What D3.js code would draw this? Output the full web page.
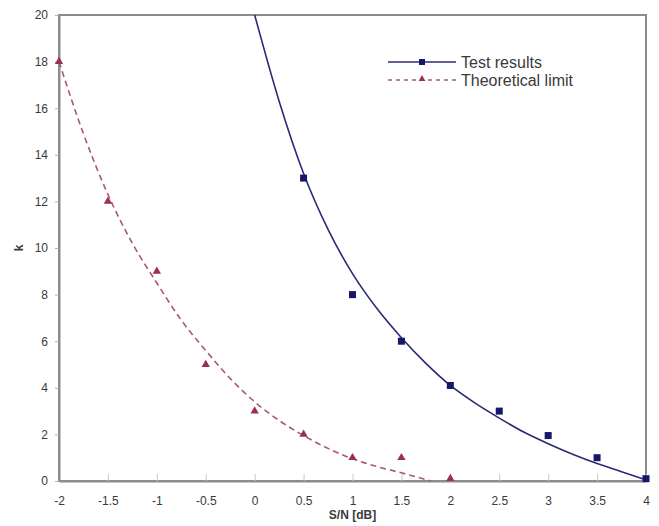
<!DOCTYPE html>
<html>
<head>
<meta charset="utf-8">
<script src="https://cdn.jsdelivr.net/npm/d3@7"></script>
<style>
  body { margin: 0; background: #fff; }
  svg { display: block; font-family: "Liberation Sans", Arial, sans-serif; }
</style>
</head>
<body>
<svg id="chart"></svg>
<script>
// measured points
const testX = [0.5, 1, 1.5, 2, 2.5, 3, 3.5, 4];
const testK = [13, 8, 6, 4.1, 3, 1.95, 1, 0.1];
const theoX = [-2, -1.5, -1, -0.5, 0, 0.5, 1, 1.5, 2];
const theoK = [18, 12, 9, 5, 3, 2, 1, 1, 0.1];

// trend curves
const testFitX = [0, 0.25, 0.5, 0.75, 1, 1.25, 1.5, 1.75, 2, 2.25, 2.5, 2.75, 3, 3.25, 3.5, 3.75, 4];
const testFitK = [20, 16.3, 13.2, 10.8, 8.9, 7.4, 6.15, 5.05, 4.1, 3.35, 2.7, 2.1, 1.6, 1.15, 0.75, 0.4, 0.05];
const theoFitX = [-2, -1.75, -1.5, -1.25, -1, -0.75, -0.5, -0.25, 0, 0.25, 0.5, 0.75, 1, 1.25, 1.5, 1.65, 1.8];
const theoFitK = [18, 14.9, 12.3, 10.2, 8.5, 6.9, 5.6, 4.4, 3.4, 2.6, 1.95, 1.4, 0.95, 0.62, 0.35, 0.18, 0];

const xTicks = [-2, -1.5, -1, -0.5, 0, 0.5, 1, 1.5, 2, 2.5, 3, 3.5, 4];
const yTicks = [0, 2, 4, 6, 8, 10, 12, 14, 16, 18, 20];

const width = 659, height = 526;
const margin = { top: 15, right: 13, bottom: 45, left: 59 };
const innerW = width - margin.left - margin.right;
const innerH = height - margin.top - margin.bottom;

const navy = "#16166a";
const navyLine = "#2a2a78";
const wine = "#9a2f55";
const wineLine = "#a9586f";
const axisGray = "#8c8c8c";
const textCol = "#3a3a3a";

const svg = d3.select("#chart").attr("width", width).attr("height", height);
const g = svg.append("g").attr("transform", `translate(${margin.left},${margin.top})`);

const x = d3.scaleLinear().domain([-2, 4]).range([0, innerW]);
const y = d3.scaleLinear().domain([0, 20]).range([innerH, 0]);

// plot frame
g.append("rect")
  .attr("width", innerW).attr("height", innerH)
  .attr("fill", "none").attr("stroke", axisGray).attr("stroke-width", 2);

// x axis: ticks pointing into the plot
const xAxis = g.append("g")
  .attr("transform", `translate(0,${innerH})`)
  .call(d3.axisBottom(x).tickValues(xTicks).tickSizeInner(-7).tickSizeOuter(0).tickPadding(15)
    .tickFormat(d => String(d)));
xAxis.select(".domain").attr("stroke", axisGray).attr("stroke-width", 2);
xAxis.selectAll(".tick line").attr("stroke", "#c8c8c8");
xAxis.selectAll(".tick text").attr("fill", textCol).attr("font-size", 12);

const yAxis = g.append("g")
  .call(d3.axisLeft(y).tickValues(yTicks).tickSizeInner(4).tickSizeOuter(0).tickPadding(7));
yAxis.select(".domain").attr("stroke", axisGray).attr("stroke-width", 2);
yAxis.selectAll(".tick line").attr("stroke", "#b0b0b0");
yAxis.selectAll(".tick text").attr("fill", textCol).attr("font-size", 12);

// axis titles
svg.append("text")
  .attr("x", margin.left + x(1)).attr("y", 519)
  .attr("text-anchor", "middle").attr("font-weight", "bold").attr("font-size", 12)
  .attr("fill", textCol).text("S/N [dB]");
svg.append("text")
  .attr("transform", `translate(23,${margin.top + y(10)}) rotate(-90)`)
  .attr("text-anchor", "middle").attr("font-weight", "bold").attr("font-size", 12)
  .attr("fill", textCol).text("k");

// trend curves
const line = d3.line().x(d => x(d[0])).y(d => y(d[1])).curve(d3.curveMonotoneX);

g.append("path")
  .datum(d3.zip(theoFitX, theoFitK))
  .attr("fill", "none").attr("stroke", wineLine).attr("stroke-width", 1.6)
  .attr("stroke-dasharray", "6,4").attr("d", line);

g.append("path")
  .datum(d3.zip(testFitX, testFitK))
  .attr("fill", "none").attr("stroke", navyLine).attr("stroke-width", 1.6)
  .attr("d", line);

// markers
const tri = d3.symbol().type(d3.symbolTriangle).size(30);
g.selectAll(".tri")
  .data(d3.zip(theoX, theoK))
  .enter().append("path")
  .attr("class", "tri")
  .attr("transform", d => `translate(${x(d[0])},${y(d[1])})`)
  .attr("d", tri).attr("fill", wine);

g.selectAll(".sq")
  .data(d3.zip(testX, testK))
  .enter().append("rect")
  .attr("class", "sq")
  .attr("x", d => x(d[0]) - 3.5).attr("y", d => y(d[1]) - 3.5)
  .attr("width", 7).attr("height", 7).attr("fill", navy);

// legend
const legend = svg.append("g").attr("transform", "translate(388,62)");
legend.append("line").attr("x1", 0).attr("x2", 68).attr("y1", 0).attr("y2", 0)
  .attr("stroke", navyLine).attr("stroke-width", 1.6);
legend.append("rect").attr("x", 31).attr("y", -3).attr("width", 6).attr("height", 6).attr("fill", navy);
legend.append("text").attr("x", 73).attr("y", 6).attr("font-size", 16).attr("fill", textCol).text("Test results");

legend.append("line").attr("x1", 0).attr("x2", 68).attr("y1", 18).attr("y2", 18)
  .attr("stroke", wineLine).attr("stroke-width", 1.4).attr("stroke-dasharray", "4,4");
legend.append("path").attr("transform", "translate(34,17)")
  .attr("d", d3.symbol().type(d3.symbolTriangle).size(20)).attr("fill", wine);
legend.append("text").attr("x", 73).attr("y", 24).attr("font-size", 16).attr("fill", textCol).text("Theoretical limit");
</script>
</body>
</html>
